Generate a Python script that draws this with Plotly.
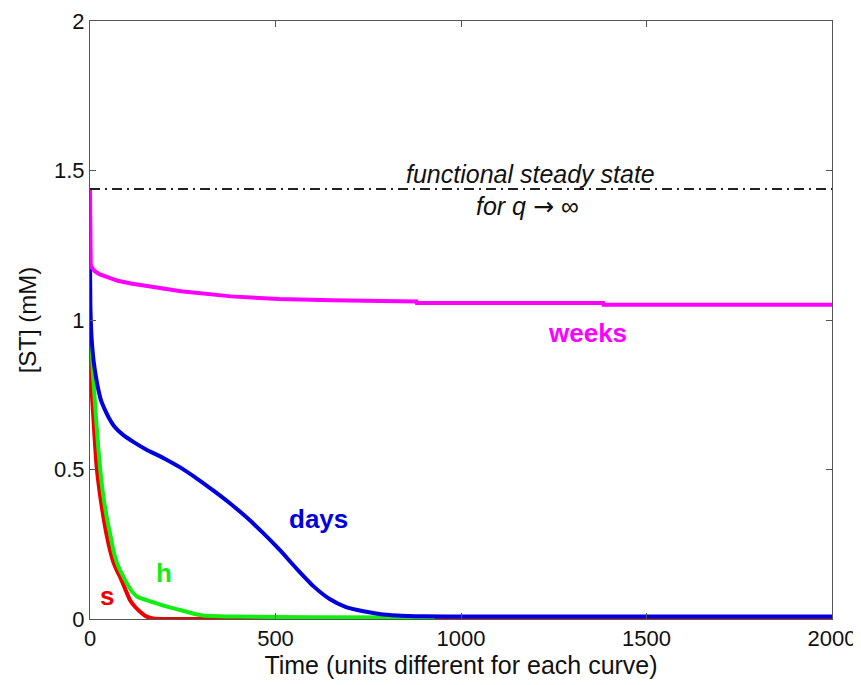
import plotly.graph_objects as go

# ---- data ----
t_weeks = [0, 0.5, 2, 5, 13, 25, 40, 75, 110, 150, 245, 380, 510, 650, 880, 881, 1383, 1384, 2000]
st_weeks = [1.435, 1.20, 1.185, 1.175, 1.163, 1.153, 1.146, 1.131, 1.122, 1.115, 1.096, 1.079, 1.070, 1.066, 1.062, 1.057, 1.057, 1.051, 1.051]

t_days = [0, 1, 3, 6, 10, 16, 22, 30, 40, 50, 65, 90, 120, 150, 200, 243, 290, 332, 377, 422,
          467, 512, 557, 602, 647, 690, 737, 780, 827, 900, 1000, 2000]
st_days = [1.20, 1.05, 0.97, 0.91, 0.86, 0.81, 0.77, 0.73, 0.70, 0.675, 0.645, 0.615, 0.59, 0.568,
           0.537, 0.507, 0.468, 0.43, 0.387, 0.34, 0.287, 0.23, 0.168, 0.11, 0.066, 0.04, 0.026,
           0.017, 0.012, 0.009, 0.008, 0.008]

t_h = [0, 3, 8, 13, 20, 27, 35, 45, 55, 63, 72, 81, 90, 100, 112, 126, 140, 160, 180, 200, 243, 288, 305, 400, 600, 930]
st_h = [0.97, 0.93, 0.82, 0.729, 0.61, 0.507, 0.42, 0.341, 0.28, 0.23, 0.19, 0.163, 0.141, 0.118, 0.094,
        0.076, 0.068, 0.06, 0.052, 0.044, 0.03, 0.015, 0.012, 0.008, 0.006, 0.005]

t_s = [0, 3, 9, 18, 27, 36, 45, 54, 63, 72, 81, 95, 108, 122, 135, 145, 153, 170, 250, 2000]
st_s = [0.93, 0.80, 0.674, 0.507, 0.415, 0.341, 0.28, 0.23, 0.19, 0.163, 0.141, 0.10, 0.063, 0.04,
        0.024, 0.014, 0.008, 0.002, 0.0, 0.0]

steady_state = 1.438
x_ticks = [0, 500, 1000, 1500, 2000]
y_ticks = [0, 0.5, 1, 1.5, 2]
y_tick_labels = ["0", "0.5", "1", "1.5", "2"]

FONT = "Arial, Liberation Sans, sans-serif"

fig = go.Figure()

fig.add_trace(go.Scatter(x=[0, 2000], y=[steady_state, steady_state], mode="lines",
                         line=dict(color="#222222", width=2, dash="10px,5px,2px,5px"),
                         showlegend=False, hoverinfo="skip"))
fig.add_trace(go.Scatter(x=t_s, y=st_s, mode="lines", line_shape="spline",
                         line=dict(color="#ee0000", width=4, smoothing=0.6), showlegend=False))
fig.add_trace(go.Scatter(x=t_h, y=st_h, mode="lines", line_shape="spline",
                         line=dict(color="#11ee11", width=4, smoothing=0.6), showlegend=False))
fig.add_trace(go.Scatter(x=t_days, y=st_days, mode="lines", line_shape="spline",
                         line=dict(color="#0000dd", width=4, smoothing=0.6), showlegend=False))
fig.add_trace(go.Scatter(x=t_weeks, y=st_weeks, mode="lines",
                         line=dict(color="#ff00ff", width=4), showlegend=False))

labels = [
    ("weeks", 1342, 0.956, "#ff00ff"),
    ("days", 615, 0.335, "#0000dd"),
    ("h", 200, 0.155, "#11ee11"),
    ("s", 45, 0.078, "#ee0000"),
]
for txt, x, y, c in labels:
    fig.add_annotation(x=x, y=y, text="<b>%s</b>" % txt, showarrow=False,
                       font=dict(family=FONT, size=26, color=c))

fig.add_annotation(x=1188, y=1.489, text="<i>functional steady state</i>", showarrow=False,
                   font=dict(family=FONT, size=25, color="#111111"))
fig.add_annotation(x=1178, y=1.379,
                   text="<i>for q</i> <span style=\"font-family:'DejaVu Sans'\">\u2192</span> \u221e",
                   showarrow=False,
                   font=dict(family=FONT, size=25, color="#111111"))

axis_common = dict(showline=True, linecolor="#555555", linewidth=1, mirror="ticks",
                   ticks="inside", ticklen=6, tickcolor="#555555", showgrid=False,
                   zeroline=False, automargin=False, ticklabeloverflow="allow",
                   tickfont=dict(family=FONT, size=22, color="#111111"))

# the page body adds an 8 px offset, so the figure is sized/margined to compensate
fig.update_layout(
    width=853, height=677,
    margin=dict(l=82, r=29, t=13, b=66),
    plot_bgcolor="white", paper_bgcolor="white",
    xaxis=dict(range=[0, 2000], tickvals=x_ticks,
               title=dict(text="Time (units different for each curve)", standoff=0,
                          font=dict(family=FONT, size=25, color="#111111")),
               **axis_common),
    yaxis=dict(range=[0, 2], tickvals=y_ticks, ticktext=y_tick_labels,
               title=dict(text="[ST] (mM)", standoff=10,
                          font=dict(family=FONT, size=24, color="#111111")),
               **axis_common),
)

fig.write_html("out.html")
